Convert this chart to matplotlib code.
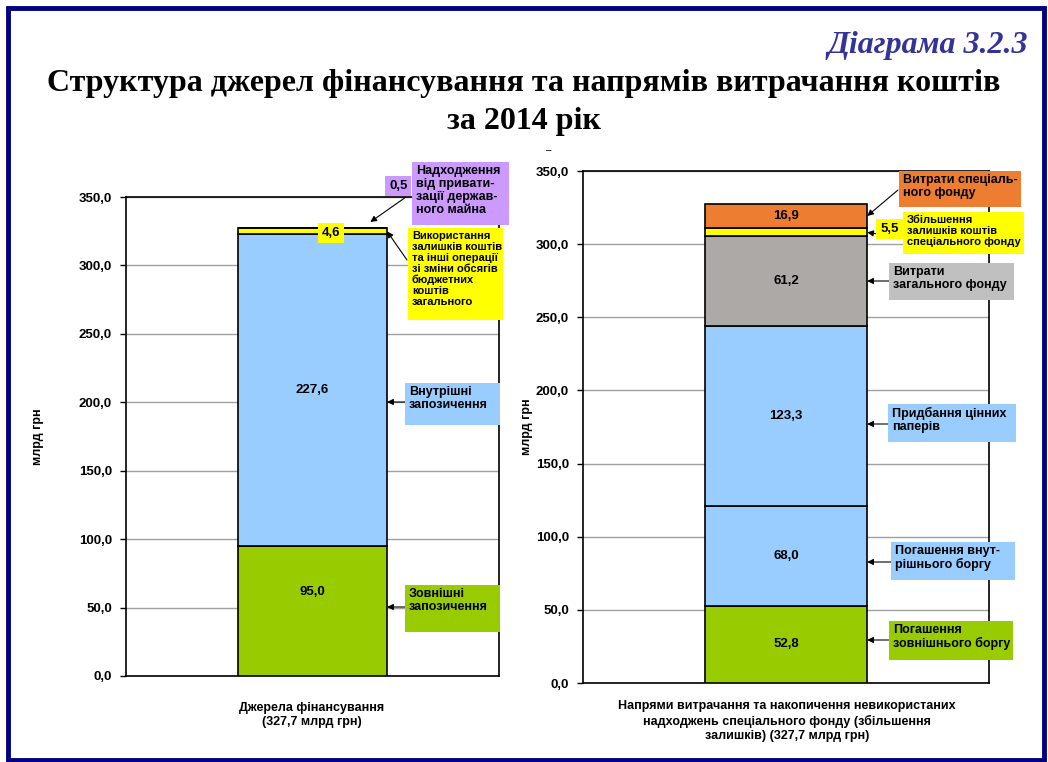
import matplotlib
matplotlib.use('Agg')
import matplotlib.pyplot as plt
from matplotlib.patches import Rectangle

W, H = 1048, 762

# ---------------- data ----------------
src_names = ["Зовнішні\nзапозичення",
             "Внутрішні\nзапозичення",
             "Використання\nзалишків коштів\nта інші операції\nзі зміни обсягів\nбюджетних\nкоштів\nзагального",
             "Надходження\nвід привати-\nзації держав-\nного майна"]
src_values = [95.0, 227.6, 4.6, 0.5]
src_colors = ['#99CC00', '#99CCFF', '#FFFF00', '#CC99FF']

use_names = ["Погашення\nзовнішнього боргу",
             "Погашення внут-\nрішнього боргу",
             "Придбання цінних\nпаперів",
             "Витрати\nзагального фонду",
             "Збільшення\nзалишків коштів\nспеціального фонду",
             "Витрати спеціаль-\nного фонду"]
use_values = [52.8, 68.0, 123.3, 61.2, 5.5, 16.9]
use_colors = ['#99CC00', '#99CCFF', '#99CCFF', '#ADA9A7', '#FFFF00', '#ED7D31']
use_box_colors = ['#99CC00', '#99CCFF', '#99CCFF', '#C0C0C0', '#FFFF00', '#ED7D31']

yticks = [0, 50, 100, 150, 200, 250, 300, 350]
ylabel = "млрд грн"
xlabel_left = "Джерела фінансування\n(327,7 млрд грн)"
xlabel_right = ("Напрями витрачання та накопичення невикористаних\n"
                "надходжень спеціального фонду (збільшення\n"
                "залишків) (327,7 млрд грн)")
title = "Структура джерел фінансування та напрямів витрачання коштів\nза 2014 рік"
diag = "Діаграма 3.2.3"

SANS = ['Liberation Sans', 'DejaVu Sans']
SERIF = ['Liberation Serif', 'DejaVu Serif']
plt.rcParams['font.family'] = SANS


def fmt(v):
    return f"{v:.1f}".replace('.', ',')


def fx(x):
    return x / W


def fy(y):
    return 1 - y / H


fig = plt.figure(figsize=(W / 100, H / 100), dpi=100)
fig.patch.set_facecolor('white')

# outer navy frame
fig.add_artist(Rectangle((fx(8), fy(760)), fx(1044) - fx(8), fy(8) - fy(760),
                         transform=fig.transFigure, fill=False,
                         edgecolor='#000080', lw=3.5, zorder=0))

fig.text(fx(1028), fy(45), diag, ha='right', va='center', family=SERIF,
         fontsize=23, fontweight='bold', style='italic', color='#333399')
fig.text(0.5, fy(84), title.split('\n')[0], ha='center', va='center', family=SERIF,
         fontsize=23, fontweight='bold')
fig.text(0.5, fy(121), title.split('\n')[1], ha='center', va='center', family=SERIF,
         fontsize=23, fontweight='bold')
fig.text(fx(549), fy(150), "–", ha='center', va='center', fontsize=7)


def make_axes(x0, y0, x1, y1):
    ax = fig.add_axes([fx(x0), fy(y1), fx(x1) - fx(x0), fy(y0) - fy(y1)])
    ax.set_xlim(-0.5, 0.5)
    ax.set_ylim(0, 350)
    ax.set_yticks(yticks)
    ax.set_yticklabels([fmt(t) for t in yticks], fontsize=9.5, fontweight='bold')
    ax.set_xticks([])
    ax.grid(axis='y', color='#A0A0A0', lw=1.0, zorder=0)
    ax.set_axisbelow(True)
    for s in ax.spines.values():
        s.set_linewidth(1.2)
        s.set_color('black')
    ax.tick_params(axis='y', length=4, width=1, pad=6)
    return ax


def stack(ax, values, colors):
    bottom = 0
    mids = []
    for v, c in zip(values, colors):
        ax.bar(0, v, width=0.4, bottom=bottom, color=c, edgecolor='black',
               lw=1.2, zorder=3)
        mids.append(bottom + v / 2)
        bottom += v
    return mids


def box(x0, y0, x1, y1, color, text, fs):
    fig.add_artist(Rectangle((fx(x0), fy(y1)), fx(x1) - fx(x0), fy(y0) - fy(y1),
                             transform=fig.transFigure, facecolor=color,
                             edgecolor='none', zorder=5))
    fig.text(fx(x0 + 4), fy(y0 + 3), text, ha='left', va='top', fontsize=fs,
             fontweight='bold', linespacing=1.12, zorder=6)


def arrow(ax, tip, start, horizontal=False):
    if horizontal:
        # same vertical position as the arrow start
        disp = fig.transFigure.transform((fx(start[0]), fy(start[1])))
        tip = (tip[0], ax.transData.inverted().transform(disp)[1])
    ax.annotate('', xy=tip, xycoords='data', xytext=(fx(start[0]), fy(start[1])),
                textcoords='figure fraction', annotation_clip=False,
                arrowprops=dict(arrowstyle='-|>', color='black', lw=0.8,
                                mutation_scale=9, shrinkA=0, shrinkB=0),
                zorder=7)


def vlabel(ax, x, y, text, bg=None):
    kw = {}
    if bg is not None:
        kw['bbox'] = dict(boxstyle='square,pad=0.3', facecolor=bg, edgecolor='none')
    ax.text(x, y, text, ha='center', va='center', fontsize=9.5,
            fontweight='bold', zorder=8, clip_on=False, **kw)


# ---------------- left chart ----------------
axL = make_axes(126, 197, 499, 676)
midsL = stack(axL, src_values, src_colors)
axL.text(-0.236, 0.5, ylabel, transform=axL.transAxes, rotation=90,
         ha='center', va='center', fontsize=9, fontweight='bold')
fig.text(fx(312), fy(715), xlabel_left, ha='center', va='center', fontsize=9,
         fontweight='bold', linespacing=1.3)

vlabel(axL, 0, midsL[0] + 14, fmt(src_values[0]))
vlabel(axL, 0, midsL[1], fmt(src_values[1]))
vlabel(axL, 0.05, midsL[2] - 1, fmt(src_values[2]), bg='#FFFF00')
vlabel(axL, 0.23, 358, fmt(src_values[3]), bg='#CC99FF')

box(405, 585, 500, 632, src_colors[0], src_names[0], 9)
arrow(axL, (0.2, 0), (409, 607), horizontal=True)
box(405, 383, 500, 425, src_colors[1], src_names[1], 9)
arrow(axL, (0.2, 0), (409, 402), horizontal=True)
box(408, 228, 503, 320, src_colors[2], src_names[2], 8)
arrow(axL, (0.2, midsL[2]), (407, 260))
box(412, 162, 509, 225, src_colors[3], src_names[3], 9)
arrow(axL, (0.155, sum(src_values) + 4), (406, 197))

# ---------------- right chart ----------------
axR = make_axes(583, 171, 989, 683)
midsR = stack(axR, use_values, use_colors)
axR.text(-0.138, 0.5, ylabel, transform=axR.transAxes, rotation=90,
         ha='center', va='center', fontsize=9, fontweight='bold')
fig.text(fx(787), fy(721), xlabel_right, ha='center', va='center', fontsize=9,
         fontweight='bold', linespacing=1.3)

for i in [0, 1, 2, 3, 5]:
    vlabel(axR, 0, midsR[i], fmt(use_values[i]))
vlabel(axR, 0.255, midsR[4] + 2.5, fmt(use_values[4]), bg='#FFFF00')

boxes_R = [(889, 621, 1013, 660, 9, (889, 640), True),
           (891, 542, 1015, 580, 9, (891, 562), True),
           (888, 404, 1016, 442, 9, (888, 424), True),
           (889, 263, 1014, 300, 9, (889, 281), True),
           (903, 212, 1024, 254, 8, (903, 238), False),
           (899, 171, 1021, 207, 9, (898, 190), False)]
for i, (x0, y0, x1, y1, fs, st, hz) in enumerate(boxes_R):
    box(x0, y0, x1, y1, use_box_colors[i], use_names[i], fs)
    arrow(axR, (0.2, midsR[i]), st, horizontal=hz)

fig.savefig('out.png', dpi=100, facecolor='white')
